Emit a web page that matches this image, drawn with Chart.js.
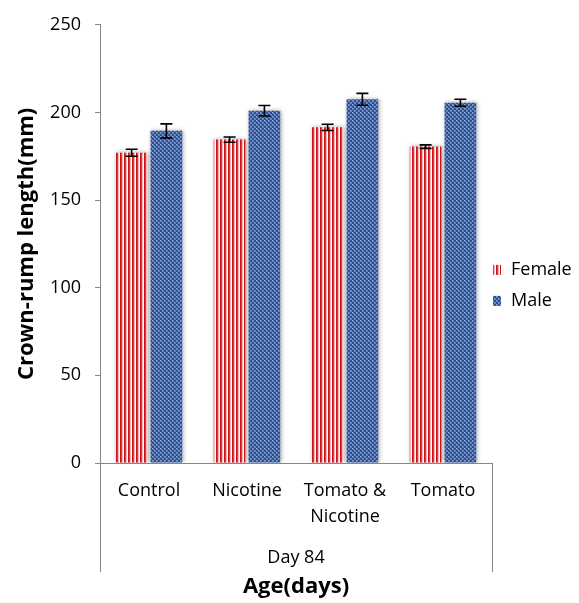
<!DOCTYPE html>
<html>
<head>
<meta charset="utf-8">
<script src="https://cdn.jsdelivr.net/npm/chart.js@4"></script>
<style>
  html, body { margin: 0; padding: 0; background: #fff; }
  #wrap { width: 579px; height: 603px; }
</style>
</head>
<body>
<div id="wrap"><canvas id="c" width="579" height="603"></canvas></div>
<script>
// Crown-rump length by treatment group, day 84
const groups = ['Control', 'Nicotine', ['Tomato &', 'Nicotine'], 'Tomato'];
const outerGroup = ['Day 84'];
const femaleMean = [177, 184.5, 191.5, 180.5];
const femaleErr = [2, 1.5, 1.8, 1];
const maleMean = [189.5, 201, 207.5, 205.5];
const maleErr = [4, 3, 3.4, 2];
const yTicks = [0, 50, 100, 150, 200, 250];

const FONT = "'Open Sans', 'DejaVu Sans', sans-serif";
const AXIS_GRAY = '#868686';

// Fill patterns: red vertical stripes and blue checker
function stripePattern() {
  const t = document.createElement('canvas');
  t.width = 4; t.height = 4;
  const g = t.getContext('2d');
  const cols = ['#c9141c', '#e2383b', '#f6b8b8', '#ffffff'];
  cols.forEach((c, i) => { g.fillStyle = c; g.fillRect(i, 0, 1, 4); });
  return g.createPattern(t, 'repeat');
}
function checkerPattern() {
  const t = document.createElement('canvas');
  t.width = 4; t.height = 4;
  const g = t.getContext('2d');
  g.fillStyle = '#2c4f8e'; g.fillRect(0, 0, 4, 4);
  g.fillStyle = '#5f82c4';
  g.fillRect(0, 0, 2, 2); g.fillRect(2, 2, 2, 2);
  g.fillStyle = '#8aa6dc';
  g.fillRect(0, 0, 1, 1); g.fillRect(2, 2, 1, 1);
  return g.createPattern(t, 'repeat');
}
const femaleFill = stripePattern();
const maleFill = checkerPattern();

const errors = [femaleErr, maleErr];

// Soft glow behind bars
const barShadow = {
  id: 'barShadow',
  beforeDatasetsDraw(chart) {
    const ctx = chart.ctx;
    ctx.save();
    ctx.shadowColor = 'rgba(0,0,0,0.35)';
    ctx.shadowBlur = 4;
    ctx.shadowOffsetX = 1;
    ctx.shadowOffsetY = 0;
  },
  afterDatasetsDraw(chart) {
    chart.ctx.restore();
  }
};

// Error bars drawn from the y scale
const errorBars = {
  id: 'errorBars',
  afterDatasetsDraw(chart) {
    const ctx = chart.ctx;
    const y = chart.scales.y;
    ctx.save();
    ctx.strokeStyle = '#000';
    ctx.lineWidth = 1.6;
    chart.data.datasets.forEach((ds, di) => {
      const meta = chart.getDatasetMeta(di);
      meta.data.forEach((bar, i) => {
        const v = ds.data[i], e = errors[di][i];
        const yTop = y.getPixelForValue(v + e);
        const yBot = y.getPixelForValue(v - e);
        const half = 6;
        ctx.beginPath();
        ctx.moveTo(bar.x, yTop); ctx.lineTo(bar.x, yBot);
        ctx.moveTo(bar.x - half, yTop); ctx.lineTo(bar.x + half, yTop);
        ctx.moveTo(bar.x - half, yBot); ctx.lineTo(bar.x + half, yBot);
        ctx.stroke();
      });
    });
    ctx.restore();
  }
};

// Bracket lines framing the two-level category axis
const groupBracket = {
  id: 'groupBracket',
  afterDraw(chart) {
    const ctx = chart.ctx;
    const a = chart.chartArea;
    const x2 = chart.scales.x2;
    const bottom = x2.top + x2.options.ticks.padding + 27;
    ctx.save();
    ctx.strokeStyle = AXIS_GRAY;
    ctx.lineWidth = 1;
    ctx.beginPath();
    ctx.moveTo(Math.round(a.left) + 0.5, a.bottom);
    ctx.lineTo(Math.round(a.left) + 0.5, bottom);
    ctx.moveTo(Math.round(a.right) + 0.5, a.bottom);
    ctx.lineTo(Math.round(a.right) + 0.5, bottom);
    ctx.stroke();
    ctx.restore();
  }
};

// Legend to the right of the plot
const sideLegend = {
  id: 'sideLegend',
  afterDraw(chart) {
    const ctx = chart.ctx;
    const a = chart.chartArea;
    const cy = (a.top + a.bottom) / 2 + 26;
    ctx.save();
    ctx.font = '18px ' + FONT;
    ctx.textBaseline = 'middle';
    chart.data.datasets.forEach((ds, i) => {
      const y = cy + i * 31;
      const bx = a.right + 1;
      ctx.fillStyle = ds.backgroundColor;
      ctx.fillRect(bx, y - 5, 8, 10);
      ctx.fillStyle = '#000';
      ctx.fillText(ds.label, bx + 18, y);
    });
    ctx.restore();
  }
};

new Chart(document.getElementById('c'), {
  type: 'bar',
  data: {
    labels: groups,
    datasets: [
      { label: 'Female', data: femaleMean, backgroundColor: femaleFill, borderWidth: 0,
        categoryPercentage: 0.71, barPercentage: 0.91 },
      { label: 'Male', data: maleMean, backgroundColor: maleFill, borderWidth: 0,
        categoryPercentage: 0.71, barPercentage: 0.91 }
    ]
  },
  options: {
    responsive: false,
    animation: false,
    layout: { padding: { top: 16, right: 87, left: 0, bottom: 0 } },
    plugins: {
      legend: { display: false },
      tooltip: { enabled: false }
    },
    scales: {
      x: {
        type: 'category',
        position: 'bottom',
        offset: true,
        afterFit(scale) { scale.height = 67; },
        grid: { display: true, color: 'rgba(0,0,0,0)', drawTicks: false, drawOnChartArea: false },
        border: { display: true, color: AXIS_GRAY, width: 1 },
        ticks: { color: '#000', padding: 15, maxRotation: 0, autoSkip: false,
                 font: { family: FONT, size: 18, lineHeight: 1.45 } }
      },
      x2: {
        type: 'category',
        position: 'bottom',
        labels: outerGroup,
        offset: true,
        afterFit(scale) { scale.height = 73; },
        grid: { display: false, drawTicks: false },
        border: { display: false },
        ticks: { color: '#000', padding: 15, maxRotation: 0,
                 font: { family: FONT, size: 18, lineHeight: 1.45 } },
        title: { display: true, text: 'Age(days)', color: '#000',
                 padding: { top: 3, bottom: 3 },
                 font: { family: FONT, size: 22, weight: 'bold', lineHeight: 1.2 } }
      },
      y: {
        min: 0, max: 250,
        afterBuildTicks(scale) { scale.ticks = yTicks.map(v => ({ value: v })); },
        afterFit(scale) { scale.width = 100; },
        grid: { drawOnChartArea: false, drawTicks: true, tickLength: 5, color: AXIS_GRAY },
        border: { display: true, color: AXIS_GRAY, width: 1 },
        ticks: { color: '#000', padding: 14, font: { family: FONT, size: 18 } },
        title: { display: true, text: 'Crown-rump length(mm)', color: '#000',
                 padding: { top: 14, bottom: 0 },
                 font: { family: FONT, size: 22, weight: 'bold', lineHeight: 1.2 } }
      }
    }
  },
  plugins: [barShadow, errorBars, groupBracket, sideLegend]
});
</script>
</body>
</html>
